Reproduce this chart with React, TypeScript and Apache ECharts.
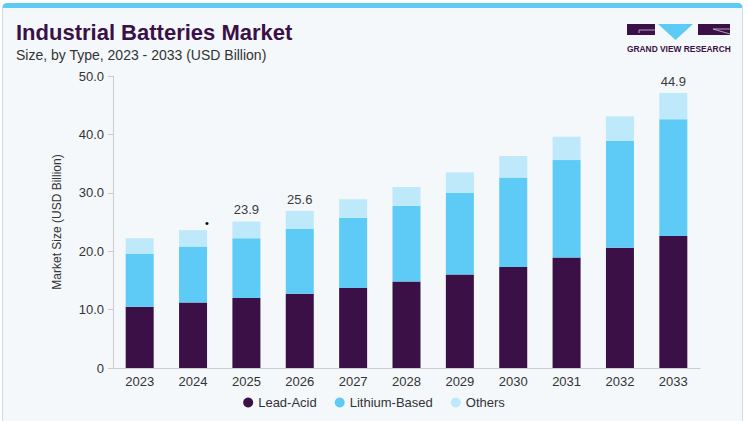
import React, { useEffect, useRef } from "react";
import * as echarts from "echarts";

const years = ["2023", "2024", "2025", "2026", "2027", "2028", "2029", "2030", "2031", "2032", "2033"];
const leadAcid = [10.5, 11.2, 12.0, 12.7, 13.7, 14.8, 16.0, 17.3, 18.9, 20.6, 22.6];
const lithiumBased = [9.0, 9.6, 10.2, 11.1, 12.0, 13.0, 14.0, 15.3, 16.7, 18.3, 20.0];
const others = [2.7, 2.8, 2.9, 3.1, 3.2, 3.2, 3.5, 3.7, 4.0, 4.2, 4.5];
const topLabels = ["", "•", "23.9", "25.6", "", "", "", "", "", "", "44.9"];

const FONT = "Liberation Sans, Arial, sans-serif";
const PURPLE = "#3a1047";
const BLUE = "#5ecbf6";
const LIGHT = "#bde9fa";

export default function App() {
  const ref = useRef<HTMLDivElement>(null);
  useEffect(() => {
    document.body.style.margin = "0";
    const chart = echarts.init(ref.current!, null, { renderer: "svg" });
    const othersData = others.map((v, i) => {
      const t = topLabels[i];
      if (!t) return { value: v };
      const isDot = t === "•";
      return {
        value: v,
        label: {
          show: true,
          position: "top",
          formatter: t,
          color: isDot ? "#000" : "#3b3b3b",
          fontSize: isDot ? 11 : 13,
          distance: isDot ? 2 : 5,
          offset: isDot ? [14, 0] : [0, 0],
          fontFamily: FONT,
        },
      };
    });
    chart.setOption({
      animation: false,
      backgroundColor: "transparent",
      textStyle: { fontFamily: FONT },
      title: [
        {
          text: "Industrial Batteries Market",
          left: 11,
          top: 16,
          textStyle: { fontFamily: FONT, fontSize: 22, fontWeight: 900, color: PURPLE, lineHeight: 22 },
        },
        {
          text: "Size, by Type, 2023 - 2033 (USD Billion)",
          left: 11,
          top: 42,
          textStyle: { fontFamily: FONT, fontSize: 14, fontWeight: "normal", color: "#333", lineHeight: 15 },
        },
      ],
      legend: {
        bottom: 7,
        left: "center",
        itemWidth: 10,
        itemHeight: 10,
        itemGap: 18,
        icon: "circle",
        textStyle: { fontFamily: FONT, fontSize: 13, color: "#333" },
        data: ["Lead-Acid", "Lithium-Based", "Others"],
      },
      grid: { left: 113, right: 48, top: 76, bottom: 53 },
      xAxis: {
        type: "category",
        data: years,
        axisLine: { lineStyle: { color: "#cccccc", width: 1 } },
        axisTick: { show: false },
        axisLabel: { fontFamily: FONT, fontSize: 13, color: "#333", margin: 7 },
      },
      yAxis: {
        type: "value",
        min: 0,
        max: 50,
        interval: 10,
        name: "Market Size (USD Billion)",
        nameLocation: "middle",
        nameGap: 50,
        nameTextStyle: { fontFamily: FONT, fontSize: 12, color: "#333" },
        axisLine: { show: true, lineStyle: { color: "#cccccc", width: 1 } },
        axisTick: { show: true, length: 5, lineStyle: { color: "#cccccc" } },
        splitLine: { show: false },
        axisLabel: {
          fontFamily: FONT,
          fontSize: 13,
          color: "#333",
          margin: 9,
          formatter: (v: number) => (v === 0 ? "0" : v.toFixed(1)),
        },
      },
      series: [
        {
          name: "Lead-Acid",
          type: "bar",
          stack: "total",
          barWidth: 28,
          data: leadAcid,
          itemStyle: { color: PURPLE },
        },
        {
          name: "Lithium-Based",
          type: "bar",
          stack: "total",
          barWidth: 28,
          data: lithiumBased,
          itemStyle: { color: BLUE },
        },
        {
          name: "Others",
          type: "bar",
          stack: "total",
          barWidth: 28,
          data: othersData,
          itemStyle: { color: LIGHT },
        },
      ],
      graphic: [
        {
          type: "group",
          left: 627,
          top: 24,
          children: [
            { type: "rect", shape: { x: 0, y: 0, width: 28, height: 11 }, style: { fill: PURPLE } },
            { type: "line", shape: { x1: 12, y1: 6, x2: 28, y2: 6 }, style: { stroke: "#cfc4d8", lineWidth: 0.8 } },
            { type: "line", shape: { x1: 12, y1: 6, x2: 12, y2: 9 }, style: { stroke: "#cfc4d8", lineWidth: 0.8 } },
            { type: "polygon", shape: { points: [[31, 0], [66, 0], [48.5, 16]] }, style: { fill: BLUE } },
            { type: "rect", shape: { x: 71, y: 0, width: 32, height: 11 }, style: { fill: PURPLE } },
            { type: "line", shape: { x1: 86, y1: 5, x2: 103, y2: 10 }, style: { stroke: "#cfc4d8", lineWidth: 0.8 } },
            { type: "line", shape: { x1: 86, y1: 5, x2: 103, y2: 5 }, style: { stroke: "#cfc4d8", lineWidth: 0.8 } },
            {
              type: "text",
              x: 0,
              y: 21,
              style: {
                text: "GRAND VIEW RESEARCH",
                fontFamily: FONT,
                fontSize: 8.4,
                fontWeight: "bold",
                fill: PURPLE,
              },
            },
          ],
        },
      ],
    });
    return () => chart.dispose();
  }, []);

  return (
    <div style={{ position: "fixed", left: 0, top: 0, width: 748, height: 421, background: "#ffffff", overflow: "hidden" }}>
      <div
        style={{
          position: "absolute",
          left: 2,
          top: 3,
          width: 741,
          height: 440,
          background: "#f4f8fb",
          border: "1px solid #d3dbe1",
          borderTop: "5px solid #5ecbf6",
          borderRadius: 5,
          boxSizing: "border-box",
        }}
      />
      <div ref={ref} style={{ position: "absolute", left: 0, top: 0, width: 748, height: 421 }} />
    </div>
  );
}
